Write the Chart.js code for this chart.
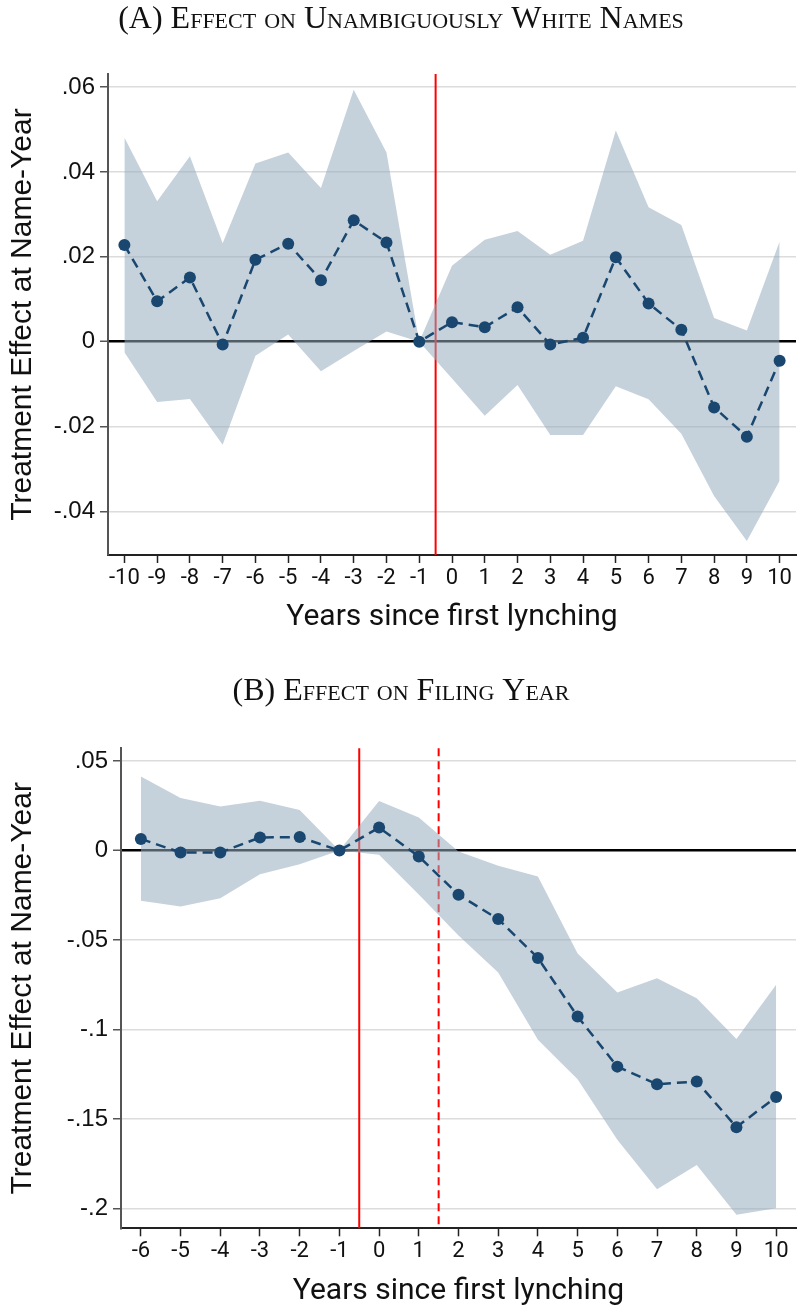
<!DOCTYPE html>
<html>
<head>
<meta charset="utf-8">
<script src="https://cdn.jsdelivr.net/npm/chart.js@4.4.1/dist/chart.umd.min.js"></script>
<style>
  body { margin: 0; background: #fff; }
  canvas { position: absolute; left: 0; }
  #chartA { top: 0; }
  #chartB { top: 650px; }
</style>
</head>
<body>
<canvas id="chartA" width="802" height="650"></canvas>
<canvas id="chartB" width="802" height="659"></canvas>
<script>
// Panel A: unambiguously white names
const yearsA = [-10, -9, -8, -7, -6, -5, -4, -3, -2, -1, 0, 1, 2, 3, 4, 5, 6, 7, 8, 9, 10];
const estA = [0.0228, 0.0095, 0.0151, -0.0007, 0.0193, 0.0231, 0.0145, 0.0286, 0.0234, 0, 0.0046, 0.0034, 0.0081, -0.0007, 0.0009, 0.0199, 0.0090, 0.0028, -0.0155, -0.0224, -0.0045];
const upperA = [0.0481, 0.0331, 0.0437, 0.0232, 0.0420, 0.0446, 0.0362, 0.0594, 0.0446, 0, 0.0179, 0.0240, 0.0261, 0.0205, 0.0238, 0.0498, 0.0317, 0.0275, 0.0056, 0.0026, 0.0236];
const lowerA = [-0.0025, -0.0142, -0.0135, -0.0243, -0.0033, 0.0017, -0.0070, -0.0022, 0.0024, 0, -0.0087, -0.0175, -0.0102, -0.0220, -0.0220, -0.0105, -0.0136, -0.0217, -0.0364, -0.0470, -0.0328];
const yTicksA = [-0.04, -0.02, 0, 0.02, 0.04, 0.06];
const yLabelsA = ['-.04', '-.02', '0', '.02', '.04', '.06'];
const eventLinesA = [-0.5];
const dashedLinesA = [];

// Panel B: filing year
const yearsB = [-6, -5, -4, -3, -2, -1, 0, 1, 2, 3, 4, 5, 6, 7, 8, 9, 10];
const estB = [0.0065, -0.0011, -0.0011, 0.0073, 0.0075, 0, 0.0128, -0.0033, -0.0247, -0.0383, -0.0600, -0.0927, -0.1207, -0.1305, -0.1290, -0.1545, -0.1376];
const upperB = [0.0413, 0.0293, 0.0246, 0.0278, 0.0227, 0, 0.0276, 0.0185, -0.0005, -0.0085, -0.0145, -0.0575, -0.0793, -0.0713, -0.0825, -0.1052, -0.0750];
const lowerB = [-0.0281, -0.0313, -0.0266, -0.0132, -0.0076, 0, -0.0024, -0.0245, -0.0475, -0.0681, -0.1057, -0.1277, -0.1616, -0.1892, -0.1756, -0.2035, -0.1998];
const yTicksB = [-0.2, -0.15, -0.1, -0.05, 0, 0.05];
const yLabelsB = ['-.2', '-.15', '-.1', '-.05', '0', '.05'];
const eventLinesB = [-0.5];
const dashedLinesB = [1.5];

const NAVY = '#1a476f';
const BAND = 'rgba(150,171,190,0.55)';

// red vertical lines, drawn under the band
const vlines = {
    id: 'vlines',
    beforeDatasetsDraw(chart, args, opts) {
        const {ctx, chartArea, scales} = chart;
        ctx.save();
        ctx.strokeStyle = '#ff0000';
        ctx.lineWidth = 2;
        const draw = (v, dash) => {
            const px = scales.x.getPixelForValue(v);
            ctx.setLineDash(dash);
            ctx.beginPath();
            ctx.moveTo(px, chartArea.top);
            ctx.lineTo(px, chartArea.bottom);
            ctx.stroke();
        };
        opts.solid.forEach(v => draw(v, []));
        opts.dashed.forEach(v => draw(v, [8, 5]));
        ctx.restore();
    }
};

function pts(xs, ys) {
    return xs.map((x, i) => ({x: x, y: ys[i]}));
}

function makeChart(id, p) {
    const ctx = document.getElementById(id).getContext('2d');
    return new Chart(ctx, {
        type: 'line',
        data: {
            datasets: [
                {
                    data: pts(p.years, p.est),
                    borderColor: NAVY,
                    borderWidth: 2.5,
                    borderDash: [10, 6],
                    pointRadius: 6,
                    pointBackgroundColor: NAVY,
                    pointBorderWidth: 0,
                    fill: false,
                    tension: 0
                },
                {
                    data: pts(p.years, p.upper),
                    borderWidth: 0,
                    pointRadius: 0,
                    backgroundColor: BAND,
                    fill: '+1',
                    tension: 0
                },
                {
                    data: pts(p.years, p.lower),
                    borderWidth: 0,
                    pointRadius: 0,
                    fill: false,
                    tension: 0
                }
            ]
        },
        plugins: [vlines],
        options: {
            responsive: false,
            animation: false,
            devicePixelRatio: 1,
            layout: {padding: {left: 0, right: 0, top: 0, bottom: p.padBottom}},
            plugins: {
                legend: {display: false},
                tooltip: {enabled: false},
                vlines: {solid: p.solid, dashed: p.dashed},
                title: {
                    display: true,
                    text: p.title,
                    color: '#111',
                    font: {family: "'Liberation Serif', serif", size: 32, weight: 'small-caps', lineHeight: 1.2},
                    padding: {top: p.titleTop, bottom: p.titleBottom}
                }
            },
            scales: {
                x: {
                    type: 'linear',
                    min: p.xMin,
                    max: p.xMax,
                    afterBuildTicks: s => { s.ticks = p.years.map(v => ({value: v})); },
                    afterFit: s => { s.height = 80.7; },
                    ticks: {
                        color: '#111',
                        padding: 2,
                        autoSkip: false,
                        maxRotation: 0,
                        minRotation: 0,
                        font: {family: 'Roboto', size: 22},
                        callback: v => String(v)
                    },
                    grid: {drawOnChartArea: false, drawTicks: true, tickLength: 8, tickColor: '#222', tickWidth: 1.5},
                    border: {display: true, color: '#222', width: 2},
                    title: {
                        display: true,
                        text: 'Years since first lynching',
                        color: '#111',
                        font: {family: 'Roboto', size: 30},
                        padding: {top: 0, bottom: 0}
                    }
                },
                y: {
                    type: 'linear',
                    min: p.yMin,
                    max: p.yMax,
                    afterBuildTicks: s => { s.ticks = p.yTicks.map(v => ({value: v})); },
                    afterFit: s => { s.width = p.yWidth; },
                    ticks: {
                        color: '#111',
                        padding: 5,
                        font: {family: "'Liberation Sans'", size: 24},
                        callback: v => p.yLabels[p.yTicks.indexOf(v)]
                    },
                    grid: {
                        color: c => c.tick && c.tick.value === 0 ? '#000' : '#dcdcdc',
                        lineWidth: c => c.tick && c.tick.value === 0 ? 2.5 : 1.5,
                        tickLength: 8,
                        tickColor: '#555',
                        tickWidth: 1.5
                    },
                    border: {display: true, color: '#555', width: 2},
                    title: {
                        display: true,
                        text: 'Treatment Effect at Name-Year',
                        color: '#111',
                        font: {family: "'Liberation Sans'", size: 30},
                        padding: {top: 5, bottom: 0}
                    }
                }
            }
        }
    });
}

makeChart('chartA', {
    title: '(A) Effect on Unambiguously White Names',
    years: yearsA, est: estA, upper: upperA, lower: lowerA,
    yTicks: yTicksA, yLabels: yLabelsA,
    solid: eventLinesA, dashed: dashedLinesA,
    xMin: -10.5, xMax: 10.5, yMin: -0.0503, yMax: 0.0631,
    yWidth: 108, padBottom: 14.3, titleTop: 0, titleBottom: 35.6
});

makeChart('chartB', {
    title: '(B) Effect on Filing Year',
    years: yearsB, est: estB, upper: upperB, lower: lowerB,
    yTicks: yTicksB, yLabels: yLabelsB,
    solid: eventLinesB, dashed: dashedLinesB,
    xMin: -6.5, xMax: 10.5, yMin: -0.211, yMax: 0.0571,
    yWidth: 121, padBottom: 0, titleTop: 22.8, titleBottom: 37.1
});
</script>
</body>
</html>
